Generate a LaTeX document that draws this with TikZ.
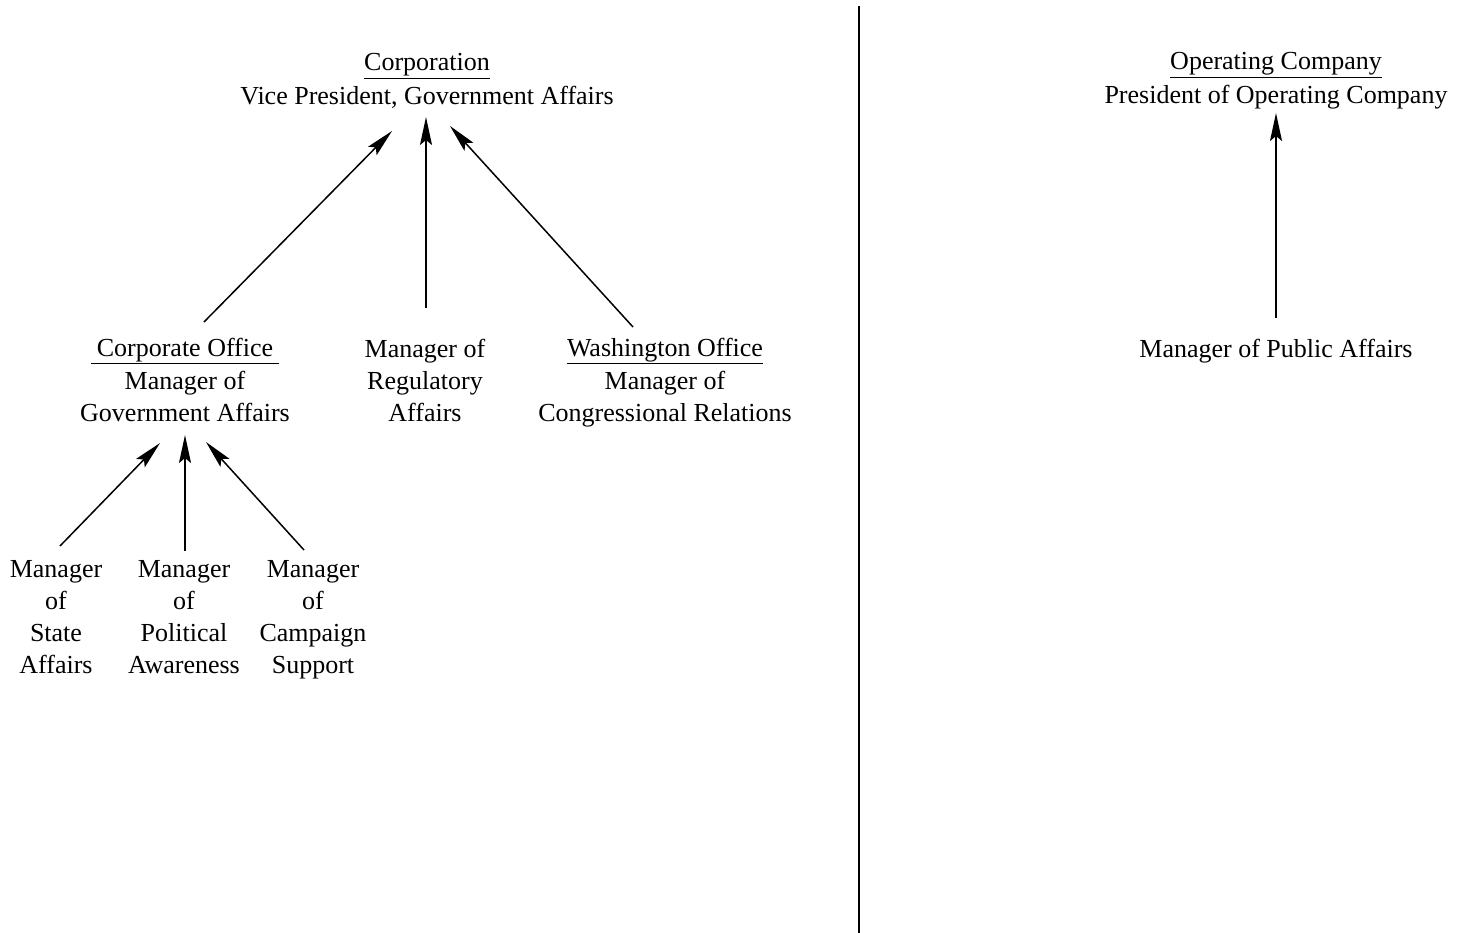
\documentclass[tikz,border=0pt]{standalone}
\usepackage{fontspec}
\setmainfont{Liberation Serif}
\usetikzlibrary{arrows.meta,calc}
\tikzset{
  post/.style={align=center,anchor=base,inner sep=0pt,font=\fontsize{26}{32}\selectfont},
  up/.style={line width=1.5pt,-{Stealth[length=28pt,width=12pt,inset=5pt]}},
  divider/.style={line width=1.8pt}
}
\begin{document}
\begin{tikzpicture}[x=1pt,y=-1pt]
\useasboundingbox (0,0) rectangle (1462,933);

% left half: corporation (base anchor sits on the last line)
\node[post] (top) at (427,105) {\underline{Corporation}\\[2pt]Vice President, Government Affairs};
\node[post] (corpoff) at (185,421) {\underline{\hspace{6pt}Corporate Office\hspace{6pt}}\\[1pt]Manager of\\Government Affairs};
\node[post] (reg) at (425,421) {Manager of\\Regulatory\\Affairs};
\node[post] (wash) at (665,421) {\underline{Washington Office}\\[1pt]Manager of\\Congressional Relations};
\node[post] (state) at (56,673) {Manager\\of\\State\\Affairs};
\node[post] (pol) at (184,673) {Manager\\of\\Political\\Awareness};
\node[post] (camp) at (313,673) {Manager\\of\\Campaign\\Support};

\draw[up] ($(corpoff.base)+(19,-99)$) -- ($(top.base)+(-35,26)$);
\draw[up] ($(reg.base)+(1,-113)$) -- ($(top.base)+(-1,12)$);
\draw[up] ($(wash.base)+(-32,-94)$) -- ($(top.base)+(23,21)$);
\draw[up] ($(state.base)+(4,-127)$) -- ($(corpoff.base)+(-25,22)$);
\draw[up] ($(pol.base)+(1,-122)$) -- ($(corpoff.base)+(0,14)$);
\draw[up] ($(camp.base)+(-9,-123)$) -- ($(corpoff.base)+(21,21)$);

% dividing line
\coordinate (divtop) at (859,6);
\coordinate (divbot) at (859,933);
\draw[divider] (divtop) -- (divbot);

% right half: operating company
\node[post] (opco) at (1276,104) {\underline{Operating Company}\\[2pt]President of Operating Company};
\node[post] (pub) at (1276,357) {Manager of Public Affairs};
\draw[up] ($(pub.base)+(0,-39)$) -- ($(opco.base)+(0,9)$);
\end{tikzpicture}
\end{document}
